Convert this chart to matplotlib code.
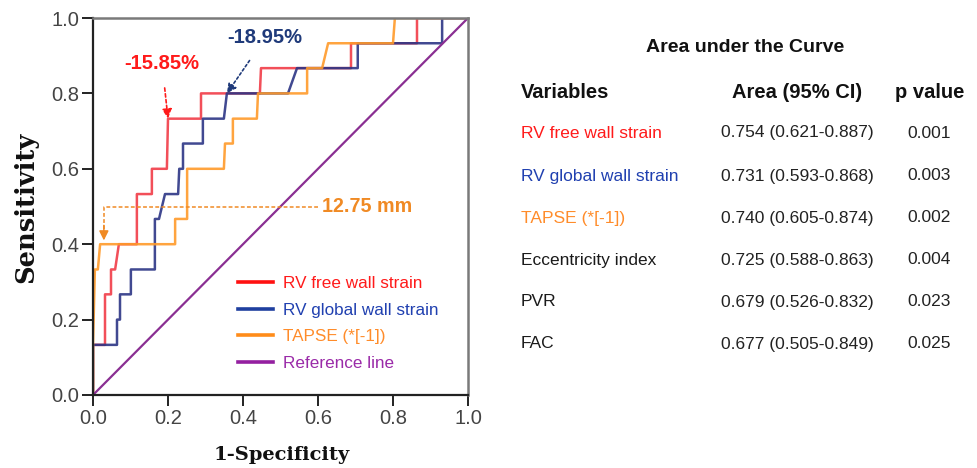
"""
ROC curves for RV strain / TAPSE with AUC summary table
"""

import matplotlib
matplotlib.use('Agg')
import matplotlib.pyplot as plt

# ROC curve points (1-specificity, sensitivity)
red_fpr = [0, 0, 0.032, 0.032, 0.048, 0.048, 0.059, 0.069, 0.117, 0.117, 0.157, 0.157,
           0.197, 0.200, 0.288, 0.288, 0.445, 0.448, 0.688, 0.688, 0.864, 0.864, 1.0]
red_tpr = [0, 0.133, 0.133, 0.267, 0.267, 0.333, 0.333, 0.4, 0.4, 0.533, 0.533, 0.6,
           0.6, 0.733, 0.733, 0.8, 0.8, 0.867, 0.867, 0.933, 0.933, 1.0, 1.0]

blue_fpr = [0, 0, 0.064, 0.064, 0.072, 0.072, 0.101, 0.101, 0.165, 0.165, 0.176, 0.192,
            0.227, 0.230, 0.240, 0.240, 0.293, 0.293, 0.349, 0.357, 0.520, 0.544,
            0.706, 0.706, 0.931, 0.931, 1.0]
blue_tpr = [0, 0.133, 0.133, 0.2, 0.2, 0.267, 0.267, 0.333, 0.333, 0.467, 0.467, 0.533,
            0.533, 0.6, 0.6, 0.667, 0.667, 0.733, 0.733, 0.8, 0.8, 0.867,
            0.867, 0.933, 0.933, 1.0, 1.0]

orange_fpr = [0, 0, 0.005, 0.013, 0.019, 0.219, 0.219, 0.251, 0.251, 0.349, 0.352, 0.373,
              0.373, 0.437, 0.440, 0.571, 0.571, 0.611, 0.627, 0.800, 0.805, 1.0]
orange_tpr = [0, 0.133, 0.333, 0.333, 0.4, 0.4, 0.467, 0.467, 0.6, 0.6, 0.667, 0.667,
              0.733, 0.733, 0.8, 0.8, 0.867, 0.867, 0.933, 0.933, 1.0, 1.0]

legend_labels = ['RV free wall strain', 'RV global wall strain', 'TAPSE (*[-1])', 'Reference line']
ticks = [0.0, 0.2, 0.4, 0.6, 0.8, 1.0]

# Cut-off annotations
red_cutoff = (0.200, 0.733)
blue_cutoff = (0.357, 0.800)
orange_cutoff = (0.029, 0.400)

# AUC table
table_vars = ['RV free wall strain', 'RV global wall strain', 'TAPSE (*[-1])',
              'Eccentricity index', 'PVR', 'FAC']
table_area = ['0.754 (0.621-0.887)', '0.731 (0.593-0.868)', '0.740 (0.605-0.874)',
              '0.725 (0.588-0.863)', '0.679 (0.526-0.832)', '0.677 (0.505-0.849)']
table_p = ['0.001', '0.003', '0.002', '0.004', '0.023', '0.025']

C_RED = '#f0303c'
C_BLUE = '#2c3585'
C_ORANGE = '#ff9a2a'
C_PURPLE = '#8a2f92'
legend_line_colors = ['#ff1010', '#1f3f9f', '#ff8c1a', '#9420a0']
legend_text_colors = ['#ff1a1a', '#2040b0', '#ff8c2a', '#9a2aa8']
row_colors = ['#ff1a1a', '#2040b0', '#ff8c2a', '#1a1a1a', '#1a1a1a', '#1a1a1a']

plt.rcParams['font.family'] = ['Liberation Sans', 'DejaVu Sans']

fig = plt.figure(figsize=(9.78, 4.68), dpi=100)
ax = fig.add_axes([93 / 978, 1 - 395 / 468, 375 / 978, 377 / 468])

ax.plot(red_fpr, red_tpr, color=C_RED, lw=1.8, alpha=0.85, label=legend_labels[0])
ax.plot(blue_fpr, blue_tpr, color=C_BLUE, lw=1.8, alpha=0.9, label=legend_labels[1])
ax.plot(orange_fpr, orange_tpr, color=C_ORANGE, lw=1.8, alpha=0.9, label=legend_labels[2])
ax.plot([0, 1], [0, 1], color=C_PURPLE, lw=1.6, label=legend_labels[3])

ax.set_xlim(0, 1)
ax.set_ylim(0, 1)
ax.set_xticks(ticks)
ax.set_yticks(ticks)
ax.set_xticklabels([f'{t:.1f}' for t in ticks])
ax.set_yticklabels([f'{t:.1f}' for t in ticks])
ax.tick_params(length=8, width=1.4, color='#222222', labelsize=14.5,
               labelcolor='#444444', pad=2)

for side in ['left', 'bottom']:
    ax.spines[side].set_color('#222222')
    ax.spines[side].set_linewidth(1.6)
for side in ['top', 'right']:
    ax.spines[side].set_color('#7a7a7a')
    ax.spines[side].set_linewidth(1.8)

ax.set_xlabel('1-Specificity', va='center', family='DejaVu Serif', fontweight='bold',
              fontsize=14, color='#111111')
ax.set_ylabel('Sensitivity', va='center', family='DejaVu Serif', fontweight='bold',
              fontsize=18.5, color='#111111')
ax.xaxis.set_label_coords(0.504, -0.159)
ax.yaxis.set_label_coords(-0.179, 0.499)

leg = ax.legend(loc='upper left', bbox_to_anchor=(0.387, 0.316), frameon=False,
                fontsize=12.3, handlelength=2.05, handletextpad=0.6,
                labelspacing=0.69, borderpad=0, borderaxespad=0)
for line, lc, txt, tc in zip(leg.get_lines(), legend_line_colors,
                             leg.get_texts(), legend_text_colors):
    line.set_color(lc)
    line.set_linewidth(2.6)
    line.set_alpha(1)
    txt.set_color(tc)

# Cut-off labels
ax.annotate('-15.85%', xy=red_cutoff, xytext=(0.184, 0.88), color='#ff1a1a',
            fontsize=14.5, fontweight='bold', ha='center', va='center',
            arrowprops=dict(arrowstyle='-|>', color='#ff1a1a', lw=1.2,
                            ls=(0, (2, 1.5)), mutation_scale=14, shrinkA=9, shrinkB=0))
ax.annotate('-18.95%', xy=blue_cutoff, xytext=(0.459, 0.947), color='#1f3a7a',
            fontsize=14.5, fontweight='bold', ha='center', va='center',
            arrowprops=dict(arrowstyle='-|>', color='#1f3a7a', lw=1.2,
                            ls=(0, (1.5, 1.5)), mutation_scale=14, shrinkA=9, shrinkB=0))

ax.text(0.611, 0.499, '12.75 mm', color='#f08a24', fontsize=14.2,
        fontweight='bold', ha='left', va='center')
ax.plot([0.599, orange_cutoff[0], orange_cutoff[0]], [0.499, 0.499, 0.44],
        color='#f08a24', lw=1.1, ls=(0, (2.5, 1.5)))
ax.annotate('', xy=(orange_cutoff[0], orange_cutoff[1] + 0.01),
            xytext=(orange_cutoff[0], 0.45),
            arrowprops=dict(arrowstyle='-|>', color='#f08a24', lw=1.1,
                            mutation_scale=14, shrinkA=0, shrinkB=0))

# AUC summary table
def fx(px):
    return px / 978


def fy(py):
    return 1 - py / 468


fig.text(fx(745), fy(48), 'Area under the Curve', fontsize=14, fontweight='bold',
         ha='center', va='center', color='#111111')
fig.text(fx(521), fy(93), 'Variables', fontsize=14.5, fontweight='bold',
         ha='left', va='center', color='#111111')
fig.text(fx(797), fy(93), 'Area (95% CI)', fontsize=14.5, fontweight='bold',
         ha='center', va='center', color='#111111')
fig.text(fx(930), fy(93), 'p value', fontsize=14.5, fontweight='bold',
         ha='center', va='center', color='#111111')

row_y = [133, 176, 218, 260, 302, 344]
for name, area, p, c, y in zip(table_vars, table_area, table_p, row_colors, row_y):
    fig.text(fx(521), fy(y), name, fontsize=12.5, ha='left', va='center', color=c)
    fig.text(fx(797), fy(y), area, fontsize=12.5, ha='center', va='center', color='#222222')
    fig.text(fx(929), fy(y), p, fontsize=12.5, ha='center', va='center', color='#222222')

fig.savefig('out.png', dpi=100)
